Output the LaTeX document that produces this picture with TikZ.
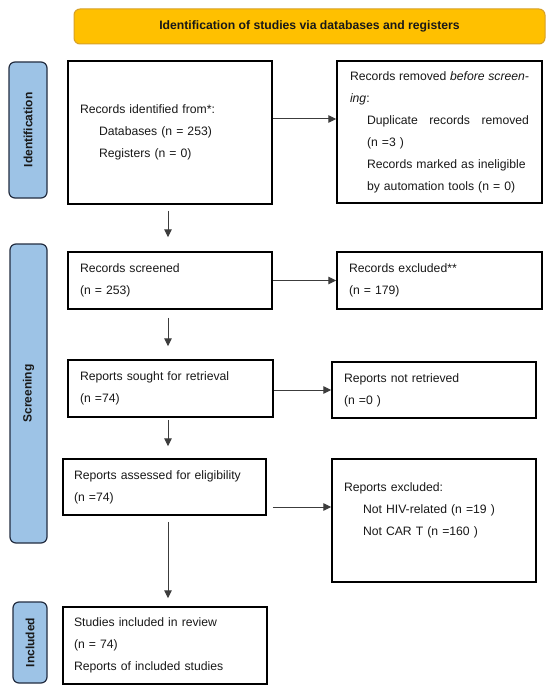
\documentclass[tikz,border=0pt]{standalone}
\usepackage{fontspec}
\setmainfont{Liberation Sans}
\usetikzlibrary{arrows.meta}
\definecolor{hdrfill}{RGB}{255,192,0}
\definecolor{hdrline}{RGB}{214,160,40}
\definecolor{barfill}{RGB}{157,195,230}
\definecolor{barline}{RGB}{35,45,65}
\definecolor{txt}{RGB}{25,25,25}
\definecolor{arrgray}{RGB}{60,60,60}
\begin{document}
\begin{tikzpicture}[x=1pt,y=-1pt,
  prbox/.style={draw=black, line width=1.5pt, fill=white, anchor=center,
    inner xsep=12pt, inner ysep=0pt, align=left, text=txt,
    font=\fontsize{12.2}{22}\selectfont},
  sidebar/.style={draw=barline, line width=1.2pt, fill=barfill, rounded corners=6pt,
    rotate=90, anchor=center, inner sep=0pt, text=txt,
    font=\fontsize{12}{14}\selectfont\bfseries},
  hdr/.style={draw=hdrline, line width=1pt, fill=hdrfill, rounded corners=6pt,
    anchor=center, inner sep=0pt, text=txt,
    font=\fontsize{12.2}{14}\selectfont\bfseries},
  arr/.style={draw=arrgray, line width=1pt, -{Triangle[length=8pt,width=7.5pt]}}
]
\useasboundingbox (0,0) rectangle (550,695);
\fill[white] (0,0) rectangle (550,695);

% header
\node[hdr, minimum width=471pt, minimum height=35pt] (hdr) at (309.5,26.5)
  {Identification of studies via databases and registers};

% side bars
\node[sidebar, minimum width=136pt, minimum height=38pt] (idbar) at (28,130) {Identification};
\node[sidebar, minimum width=299pt, minimum height=37pt] (scrbar) at (28.5,393.5) {Screening};
\node[sidebar, minimum width=81pt, minimum height=34pt] (incbar) at (30,642.5) {Included};

% left column
\node[prbox, minimum width=204pt, minimum height=143pt, text width=180pt] (b1) at (170,132.5)
  {Records identified from*:\\
   \hspace*{19pt}Databases (n = 253)\\
   \hspace*{19pt}Registers (n = 0)};
\node[prbox, minimum width=204pt, minimum height=57pt, text width=180pt] (b3) at (170,280.5)
  {Records screened\\(n = 253)};
\node[prbox, minimum width=205pt, minimum height=57pt, text width=181pt, inner xsep=11pt] (b4) at (170.5,388.5)
  {Reports sought for retrieval\\(n =74)};
\node[prbox, minimum width=203pt, minimum height=56pt, text width=181pt, inner xsep=11pt] (b5) at (164.5,487)
  {Reports assessed for eligibility\\(n =74)};
\node[prbox, minimum width=204pt, minimum height=77pt, text width=182pt, inner xsep=11pt] (b6) at (165,645.5)
  {Studies included in review\\(n = 74)\\Reports of included studies};

% right column
\node[prbox, minimum width=205pt, minimum height=142pt, text width=179pt, inner xsep=13pt] (b2) at (439.5,132)
  {\makebox[179pt][l]{Records\hfill removed\hfill \textit{before}\hfill\textit{screen-}}\\
   \textit{ing}:\\
   \hspace*{17pt}\makebox[162pt][l]{Duplicate\hfill records\hfill removed}\\
   \hspace*{17pt}(n =3 )\\
   \hspace*{17pt}Records marked as ineligible\\
   \hspace*{17pt}by automation tools (n = 0)};
\node[prbox, minimum width=205pt, minimum height=57pt, text width=181pt] (e1) at (439.5,280.5)
  {Records excluded**\\(n = 179)};
\node[prbox, minimum width=204pt, minimum height=56pt, text width=180pt] (e2) at (434,390)
  {Reports not retrieved\\(n =0 )};
\node[prbox, minimum width=204pt, minimum height=123pt, text width=180pt] (e3) at (434,520.5)
  {Reports excluded:\\
   \hspace*{19pt}Not HIV-related (n =19 )\\
   \hspace*{19pt}Not CAR T (n =160 )\\
   \mbox{}};

% connectors
\coordinate (vx) at (168,0);
\coordinate (h1) at (0,119);
\coordinate (h5) at (0,507);
\draw[arr, shorten <=6pt, shorten >=14pt] (b1.south -| vx) -- (b3.north -| vx);
\draw[arr, shorten <=8pt, shorten >=13pt] (b3.south -| vx) -- (b4.north -| vx);
\draw[arr, shorten <=2pt, shorten >=12pt] (b4.south -| vx) -- (b5.north -| vx);
\draw[arr, shorten <=6pt, shorten >=8pt] (b5.south -| vx) -- (b6.north -| vx);

\draw[arr] (b1.east |- h1) -- (b2.west |- h1);
\draw[arr] (b3) -- (e1);
\draw[arr] (b4.east |- e2.west) -- (e2.west);
\draw[arr, shorten <=6pt] (b5.east |- h5) -- (e3.west |- h5);
\end{tikzpicture}
\end{document}
